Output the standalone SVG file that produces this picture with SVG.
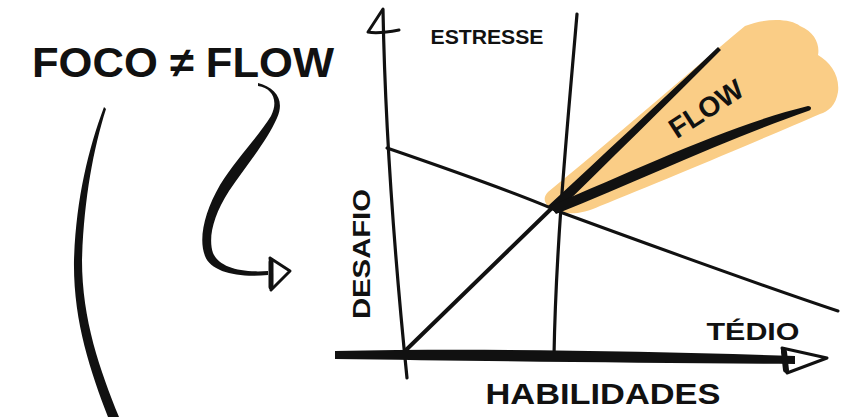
<svg xmlns="http://www.w3.org/2000/svg" width="846" height="417" viewBox="0 0 846 417">
<style>
.t{font-family:"Liberation Sans","DejaVu Sans",sans-serif;fill:#111;text-anchor:middle}
.ln{fill:none;stroke:#111;stroke-linecap:round;stroke-linejoin:round}
.ink{fill:#111;stroke:none}
</style>
<rect width="846" height="417" fill="#fff"/>
<!-- flow region -->
<g id="flow-zone">
<path d="M548,192 C600,150 680,80 745,26 C765,18 790,18 800,26 C815,32 820,45 818,55 C830,62 840,75 838,92 C836,105 828,112 820,114 C760,140 660,182 600,206 C585,213 572,215 560,212 C545,208 541,199 548,192 Z" fill="#FACD86"/>
<text class="t" x="707" y="118" font-size="28" font-weight="bold" transform="rotate(-33 707 110)">FLOW</text>
</g>
<g id="connectors">
<!-- vertical axis -->
<path class="ln" d="M383,10 C385,120 395,260 407,378" stroke-width="3.2"/>
<path class="ln" d="M383,9 L368,32 Q378,34 399,30" stroke-width="3"/>
<!-- second vertical -->
<path class="ln" d="M577,14 C568,120 556,240 554,356" stroke-width="3.2"/>
<!-- descending line -->
<path class="ln" d="M387,148 C480,180 540,203 560,212 C650,245 760,285 838,311" stroke-width="3"/>
<!-- diagonal -->
<path class="ln" d="M406,350 L552,208" stroke-width="4"/>
<path class="ink" d="M548,206 C600,158 660,102 718,47 L721,50 C665,106 608,162 556,213 Z"/>
<path class="ink" d="M550,206 C640,168 730,125 808,106 C812,106 812,110 808,111 C730,138 640,180 556,214 Z"/>
<!-- horizontal axis -->
<path class="ink" d="M335,351 C480,348 650,351 795,356 L795,364 C650,363 480,361 335,359 Z"/>
<path class="ln" d="M782,348 L827,358 L787,373 M782,348 C785,360 785,365 787,373" stroke-width="3"/>
<path class="ln" d="M784,352 L786,370" stroke-width="6"/>
<!-- curved arrow -->
<path class="ink" d="M258,83 C276,88 285,100 277,118 C267,141 246,166 229,191 C213,216 208,238 213,253 C219,267 240,273 268,271 L268,275 C238,278 211,272 205,256 C198,238 205,211 220,185 C236,159 258,137 271,116 C279,100 272,88 258,86 Z"/>
<path class="ln" d="M270,258 L290,271 L271,290 M270,258 C272,270 272,280 271,290" stroke-width="3"/>
<path class="ln" d="M271,262 L271,287" stroke-width="5"/>
<!-- left big curve -->
<path class="ink" d="M104,107 C88,150 76,200 74,260 C73,320 90,370 108,417 L119,417 C100,370 82,320 82,260 C84,200 93,150 106,109 Z"/>
</g>
<g id="title"><text class="t" x="183" y="77" font-size="42" font-weight="bold" textLength="302" lengthAdjust="spacingAndGlyphs">FOCO ≠ FLOW</text></g>
<g id="estresse"><text class="t" x="487" y="44" font-size="21" font-weight="bold" textLength="113" lengthAdjust="spacingAndGlyphs">ESTRESSE</text></g>
<g id="desafio"><text class="t" x="362" y="262" font-size="24" font-weight="bold" transform="rotate(-90 362 254)" textLength="130" lengthAdjust="spacingAndGlyphs">DESAFIO</text></g>
<g id="tedio"><text class="t" x="753" y="340" font-size="24" font-weight="bold" textLength="93" lengthAdjust="spacingAndGlyphs">TÉDIO</text></g>
<g id="habilidades"><text class="t" x="603" y="404" font-size="30" font-weight="bold" textLength="235" lengthAdjust="spacingAndGlyphs">HABILIDADES</text></g>
</svg>
